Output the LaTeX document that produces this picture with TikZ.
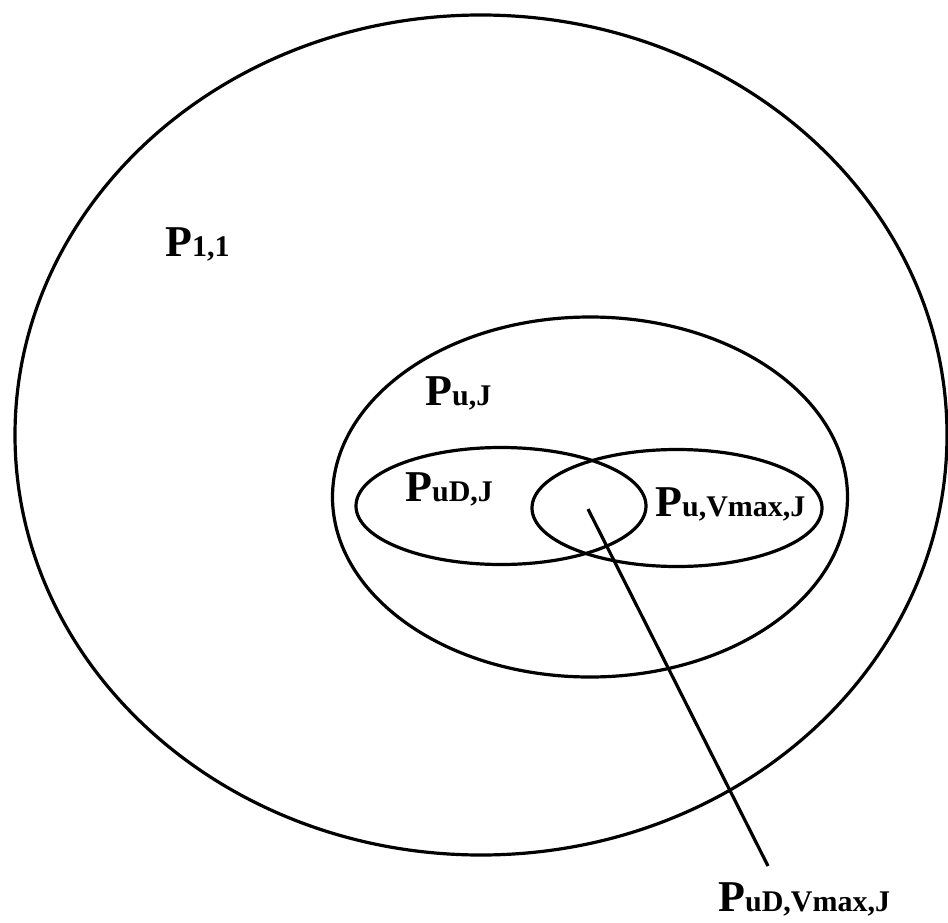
\documentclass[tikz,border=0pt]{standalone}
\usepackage{fontspec}
\setmainfont{Liberation Serif}
\usetikzlibrary{shapes.geometric}

\newcommand{\pset}[1]{{\fontsize{44}{44}\selectfont P}{\fontsize{30}{30}\selectfont #1}}

\begin{document}
\begin{tikzpicture}[x=1pt, y=-1pt,
    set/.style={draw, ellipse, line width=3.2pt, inner sep=0pt},
    lbl/.style={font=\bfseries, anchor=base west, inner sep=0pt}]
    \useasboundingbox (0,0) rectangle (948,923);
    % the nested sets
    \node[set, minimum width=932, minimum height=840] (all) at (481,435) {};
    \node[set, minimum width=515, minimum height=360] (uj) at (590,497) {};
    \node[set, minimum width=290, minimum height=117] (udj) at (501,506) {};
    \node[set, minimum width=290, minimum height=117] (uvj) at (677,508) {};
    % labels
    \node[lbl] (allL) at (165,256) {\pset{1,1}};
    \node[lbl] (ujL) at (425,405) {\pset{u,J}};
    \node[lbl] (udjL) at (405,501) {\pset{uD,J}};
    \node[lbl] (uvjL) at (655,516) {\pset{u,Vmax,J}};
    \node[lbl] (lensL) at (718,911) {\pset{uD,Vmax,J}};
    % pointer to the overlap
    \coordinate (lens) at (588,509);
    \coordinate (tail) at (768,866);
    \draw[line width=3.2pt] (lens) -- (tail);
\end{tikzpicture}
\end{document}
